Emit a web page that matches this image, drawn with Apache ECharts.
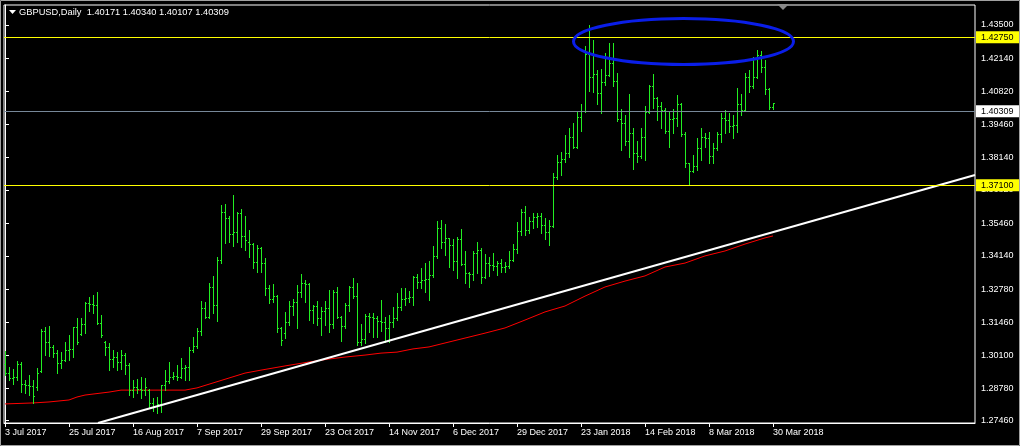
<!DOCTYPE html>
<html><head><meta charset="utf-8">
<script src="https://cdn.jsdelivr.net/npm/echarts@6/dist/echarts.min.js"></script>
<style>html,body{margin:0;padding:0;background:#000;overflow:hidden}#c{width:1020px;height:446px}</style>
</head><body><div id="c"></div>
<script>
const symbolTitle = 'GBPUSD,Daily  1.40171 1.40340 1.40107 1.40309';
const xTickIndex = [0,16,32,48,64,80,96,112,128,144,160,176,192];
const xTickLabels = ['3 Jul 2017','25 Jul 2017','16 Aug 2017','7 Sep 2017','29 Sep 2017','23 Oct 2017','14 Nov 2017','6 Dec 2017','29 Dec 2017','23 Jan 2018','14 Feb 2018','8 Mar 2018','30 Mar 2018'];
const yTickLabels = ['1.43500','1.42140','1.40820','1.39460','1.38140','1.36820','1.35460','1.34140','1.32780','1.31460','1.30100','1.28780','1.27460'];

const opens = [
1.2972,1.2939,1.2919,1.2923,1.2972,1.2891,1.2887,1.2883,1.2879,1.2947,
1.3106,1.3061,1.3041,1.3020,1.2976,1.2992,1.3029,1.3033,1.3122,1.3097,
1.3138,1.3223,1.3219,1.3215,1.3142,1.3065,1.3041,1.2996,1.3004,1.2980,
1.3012,1.2968,1.2870,1.2879,1.2874,1.2870,1.2870,1.2814,1.2802,1.2810,
1.2887,1.2903,1.2923,1.2927,1.2923,1.2956,1.2960,1.3029,1.3045,1.3106,
1.3199,1.3166,1.3284,1.3211,1.3397,1.3592,1.3564,1.3499,1.3507,1.3584,
1.3491,1.3470,1.3462,1.3389,1.3446,1.3385,1.3280,1.3239,1.3251,1.3118,
1.3101,1.3146,1.3207,1.3227,1.3264,1.3304,1.3300,1.3191,1.3207,1.3162,
1.3187,1.3199,1.3134,1.3264,1.3166,1.3126,1.3211,1.3284,1.3251,1.3061,
1.3077,1.3170,1.3166,1.3162,1.3150,1.3146,1.3118,1.3146,1.3162,1.3203,
1.3239,1.3243,1.3247,1.3328,1.3308,1.3316,1.3320,1.3333,1.3410,1.3527,
1.3470,1.3483,1.3458,1.3393,1.3479,1.3381,1.3341,1.3337,1.3422,1.3434,
1.3328,1.3385,1.3377,1.3373,1.3385,1.3369,1.3373,1.3397,1.3438,1.3511,
1.3592,1.3515,1.3555,1.3568,1.3572,1.3539,1.3507,1.3535,1.3730,1.3791,
1.3803,1.3831,1.3892,1.3855,1.3977,1.4001,1.4232,1.4139,1.4151,1.4074,
1.4115,1.4147,1.4192,1.4119,1.3965,1.3949,1.3876,1.3912,1.3831,1.3815,
1.3892,1.3997,1.4099,1.4054,1.4018,1.4005,1.3920,1.3965,1.3969,1.4026,
1.3908,1.3787,1.3758,1.3775,1.3851,1.3896,1.3888,1.3815,1.3851,1.3908,
1.3969,1.3961,1.3937,1.3941,1.4026,1.4005,1.4139,1.4099,1.4139,1.4228,
1.4176,1.4087,1.40171];
const highs = [
1.3029,1.2964,1.2956,1.2988,1.2984,1.2911,1.2931,1.2911,1.2960,1.3118,
1.3126,1.3130,1.3053,1.3033,1.3024,1.3065,1.3093,1.3126,1.3162,1.3162,
1.3227,1.3247,1.3256,1.3268,1.3174,1.3069,1.3061,1.3033,1.3024,1.3033,
1.3020,1.2980,1.2911,1.2915,1.2923,1.2919,1.2875,1.2838,1.2842,1.2891,
1.2951,1.2984,1.2943,1.2972,1.3000,1.2972,1.3045,1.3085,1.3122,1.3231,
1.3227,1.3304,1.3333,1.3410,1.3620,1.3624,1.3576,1.3661,1.3592,1.3604,
1.3576,1.3519,1.3466,1.3458,1.3450,1.3405,1.3296,1.3300,1.3256,1.3126,
1.3187,1.3231,1.3239,1.3296,1.3341,1.3316,1.3304,1.3215,1.3231,1.3207,
1.3231,1.3276,1.3276,1.3288,1.3170,1.3223,1.3292,1.3324,1.3304,1.3138,
1.3178,1.3183,1.3183,1.3170,1.3235,1.3166,1.3174,1.3207,1.3264,1.3284,
1.3284,1.3272,1.3333,1.3341,1.3365,1.3385,1.3393,1.3454,1.3555,1.3559,
1.3543,1.3487,1.3483,1.3491,1.3523,1.3434,1.3349,1.3434,1.3470,1.3446,
1.3422,1.3410,1.3426,1.3393,1.3401,1.3389,1.3434,1.3462,1.3551,1.3604,
1.3616,1.3572,1.3588,1.3588,1.3588,1.3568,1.3559,1.3750,1.3823,1.3835,
1.3904,1.3933,1.3953,1.4001,1.4030,1.4265,1.4350,1.4289,1.4168,1.4172,
1.4236,1.4277,1.4277,1.4155,1.4010,1.3985,1.4070,1.3933,1.3880,1.3933,
1.4022,1.4107,1.4151,1.4058,1.4038,1.4014,1.3997,1.4010,1.4066,1.4034,
1.3916,1.3791,1.3823,1.3892,1.3933,1.3912,1.3916,1.3872,1.3916,1.3993,
1.4005,1.3993,1.3985,1.4095,1.4070,1.4155,1.4168,1.4220,1.4249,1.4245,
1.4208,1.4095,1.40340];
const lows = [
1.2931,1.2911,1.2895,1.2911,1.2862,1.2858,1.2850,1.2818,1.2870,1.2943,
1.3012,1.3008,1.3004,1.2939,1.2960,1.2988,1.2992,1.3004,1.3057,1.3093,
1.3101,1.3191,1.3183,1.3138,1.3085,1.3012,1.2951,1.2964,1.2951,1.2956,
1.2935,1.2850,1.2842,1.2858,1.2838,1.2850,1.2802,1.2785,1.2777,1.2781,
1.2870,1.2899,1.2915,1.2911,1.2919,1.2911,1.2911,1.3025,1.3041,1.3093,
1.3162,1.3162,1.3183,1.3150,1.3385,1.3466,1.3470,1.3454,1.3470,1.3450,
1.3438,1.3410,1.3365,1.3349,1.3349,1.3256,1.3223,1.3227,1.3106,1.3053,
1.3081,1.3134,1.3174,1.3122,1.3247,1.3227,1.3154,1.3142,1.3134,1.3093,
1.3134,1.3106,1.3122,1.3162,1.3069,1.3122,1.3191,1.3243,1.3053,1.3053,
1.3061,1.3106,1.3085,1.3085,1.3111,1.3065,1.3065,1.3126,1.3154,1.3195,
1.3215,1.3227,1.3215,1.3284,1.3284,1.3268,1.3235,1.3328,1.3405,1.3446,
1.3418,1.3369,1.3357,1.3324,1.3377,1.3304,1.3288,1.3316,1.3345,1.3304,
1.3324,1.3333,1.3357,1.3337,1.3349,1.3349,1.3365,1.3393,1.3426,1.3499,
1.3499,1.3507,1.3527,1.3531,1.3507,1.3483,1.3458,1.3531,1.3726,1.3742,
1.3795,1.3815,1.3851,1.3851,1.3920,1.3997,1.4083,1.4078,1.4030,1.3993,
1.4107,1.4143,1.4103,1.3961,1.3843,1.3864,1.3815,1.3766,1.3795,1.3811,
1.3803,1.3993,1.4014,1.3965,1.3933,1.3912,1.3855,1.3912,1.3941,1.3900,
1.3775,1.3701,1.3754,1.3762,1.3803,1.3855,1.3791,1.3791,1.3843,1.3876,
1.3912,1.3916,1.3892,1.3916,1.3985,1.4001,1.4078,1.4095,1.4135,1.4160,
1.4070,1.4011,1.40107];
const closes = [
1.2939,1.2919,1.2923,1.2972,1.2891,1.2887,1.2883,1.2846,1.2939,1.3106,
1.3061,1.3041,1.3020,1.2976,1.2992,1.3029,1.3033,1.3122,1.3065,1.3138,
1.3223,1.3219,1.3215,1.3142,1.3093,1.3041,1.2996,1.3004,1.2980,1.3012,
1.2968,1.2870,1.2879,1.2874,1.2870,1.2879,1.2814,1.2802,1.2810,1.2887,
1.2903,1.2923,1.2927,1.2923,1.2956,1.2960,1.3029,1.3045,1.3106,1.3199,
1.3166,1.3284,1.3211,1.3397,1.3592,1.3564,1.3499,1.3507,1.3584,1.3491,
1.3478,1.3462,1.3389,1.3446,1.3385,1.3280,1.3239,1.3251,1.3118,1.3073,
1.3146,1.3207,1.3227,1.3264,1.3304,1.3300,1.3191,1.3207,1.3162,1.3187,
1.3199,1.3134,1.3264,1.3166,1.3126,1.3211,1.3284,1.3251,1.3061,1.3077,
1.3170,1.3166,1.3162,1.3150,1.3146,1.3118,1.3146,1.3162,1.3203,1.3239,
1.3243,1.3247,1.3328,1.3308,1.3316,1.3320,1.3333,1.3410,1.3527,1.3470,
1.3483,1.3458,1.3393,1.3479,1.3381,1.3341,1.3337,1.3422,1.3434,1.3328,
1.3385,1.3377,1.3373,1.3385,1.3369,1.3373,1.3397,1.3438,1.3511,1.3592,
1.3515,1.3555,1.3568,1.3572,1.3539,1.3507,1.3535,1.3730,1.3791,1.3803,
1.3831,1.3892,1.3855,1.3977,1.4001,1.4232,1.4139,1.4151,1.4074,1.4115,
1.4147,1.4192,1.4119,1.3965,1.3949,1.3876,1.3912,1.3831,1.3815,1.3892,
1.3997,1.4099,1.4054,1.4018,1.4005,1.3920,1.3965,1.3969,1.4026,1.3908,
1.3787,1.3758,1.3775,1.3851,1.3896,1.3888,1.3815,1.3851,1.3908,1.3969,
1.3961,1.3937,1.3941,1.4026,1.4005,1.4139,1.4099,1.4139,1.4228,1.4176,
1.4087,1.4017,1.40309];

const maIndex = [0,7,11,16,18,20,24,26,29,45,48,52,56,60,64,70,76,81,85,90,94,98,102,106,109,115,120,125,130,135,140,145,150,155,160,165,170,175,180,185,190,192];
const maValues = [1.2814,1.2818,1.2822,1.2830,1.2842,1.2850,1.2858,1.2862,1.2870,1.2870,1.2879,1.2899,1.2919,1.2939,1.2951,1.2968,1.2984,1.2996,1.3004,1.3012,1.3020,1.3024,1.3037,1.3045,1.3057,1.3081,1.3101,1.3122,1.3154,1.3187,1.3211,1.3251,1.3288,1.3312,1.3333,1.3369,1.3385,1.3414,1.3434,1.3462,1.3487,1.3495];

const trendIndex = [23.25, 242.5];
const trendPrice = [1.27367, 1.37419];
const levelPrices = [1.42750, 1.37100];
const bidPrice = 1.40309;
const ellipseIndex = [142.125, 197.125];
const ellipsePrice = [1.43764, 1.41899];

const FONT = '"Liberation Sans", Arial, sans-serif';
const BAR = '#22ee22';

const barData = opens.map((o, i) => [i, o, highs[i], lows[i], closes[i]]);
const maData = maIndex.map((x, k) => [x, maValues[k]]);
const trendData = trendIndex.map((x, k) => [x, trendPrice[k]]);
const yTickValues = yTickLabels.map(Number);

function renderBar(params, api) {
  const i = api.value(0);
  const ph = api.coord([i, api.value(2)]);
  const pl = api.coord([i, api.value(3)]);
  const po = api.coord([i, api.value(1)]);
  const pc = api.coord([i, api.value(4)]);
  const xc = Math.round(ph[0] - 0.5);
  const st = {fill: BAR};
  const top = Math.round(ph[1]), bot = Math.round(pl[1]);
  const yo = Math.round(po[1] - 0.5), yc = Math.round(pc[1] - 0.5);
  return {type: 'group', children: [
    {type: 'rect', shape: {x: xc, y: top, width: 1, height: Math.max(1, bot - top + 1)}, style: st},
    {type: 'rect', shape: {x: xc - 1, y: yo, width: 1, height: 1}, style: st},
    {type: 'rect', shape: {x: xc + 1, y: yc, width: 1, height: 1}, style: st}
  ]};
}

function renderEllipse(params, api) {
  const a = api.coord([api.value(0), api.value(1)]);
  const b = api.coord([api.value(2), api.value(3)]);
  return {type: 'ellipse', shape: {cx: (a[0] + b[0]) / 2, cy: (a[1] + b[1]) / 2, rx: Math.abs(b[0] - a[0]) / 2, ry: Math.abs(b[1] - a[1]) / 2},
    style: {fill: 'none', stroke: '#0a1ee8', lineWidth: 3}};
}

function levelSeries(v, lineColor, bg) {
  return {type: 'line', data: [], silent: true, z: 5,
    markLine: {symbol: 'none', silent: true, animation: false,
      lineStyle: {color: lineColor, width: 1, type: 'solid'},
      label: {show: true, position: 'end', distance: 1, formatter: v.toFixed(5), color: '#000', backgroundColor: bg,
        padding: [2, 6, 1, 5], fontSize: 9, fontFamily: FONT},
      data: [{yAxis: v}]}};
}

const chart = echarts.init(document.getElementById('c'), null, {renderer: 'canvas'});
chart.setOption({
  animation: false,
  backgroundColor: '#000',
  title: {text: symbolTitle, left: 19, top: 8, padding: 0,
    textStyle: {color: '#fff', fontSize: 9.3, fontWeight: 'normal', fontFamily: FONT}},
  grid: {left: 4, right: 45, top: 5, bottom: 23, show: true, borderColor: '#fff', borderWidth: 1,
    backgroundColor: '#000', containLabel: false, outerBoundsMode: 'none'},
  xAxis: {type: 'value', min: -0.25, max: 242.5, splitLine: {show: false},
    axisLine: {show: true, lineStyle: {color: '#fff', width: 1}},
    axisTick: {show: true, customValues: xTickIndex, length: 4, lineStyle: {color: '#fff'}},
    axisLabel: {show: true, customValues: xTickIndex, align: 'left', margin: 5, color: '#fff', fontSize: 9, fontFamily: FONT,
      formatter: v => { const k = xTickIndex.indexOf(Math.round(v)); return k >= 0 ? xTickLabels[k] : ''; }}},
  yAxis: {type: 'value', position: 'right', min: 1.27367, max: 1.44311, splitLine: {show: false},
    axisLine: {show: true, lineStyle: {color: '#fff', width: 1}},
    axisTick: {show: true, customValues: yTickValues, length: 4, lineStyle: {color: '#fff'}},
    axisLabel: {show: true, customValues: yTickValues, margin: 6, color: '#fff', fontSize: 9, fontFamily: FONT,
      formatter: v => v.toFixed(5)}},
  series: [
    {type: 'line', name: 'MA', data: maData, symbol: 'none', z: 2, silent: true,
      lineStyle: {color: '#ff0000', width: 1}},
    {type: 'custom', name: 'GBPUSD', data: barData, renderItem: renderBar, encode: {x: 0, y: [1, 2, 3, 4]}, z: 3, silent: true},
    levelSeries(levelPrices[0], '#ffff00', '#ffff00'),
    levelSeries(levelPrices[1], '#ffff00', '#ffff00'),
    levelSeries(bidPrice, '#778899', '#ffffff'),
    {type: 'line', name: 'Trend', data: trendData, symbol: 'none', z: 4, silent: true,
      lineStyle: {color: '#ffffff', width: 2}},
    {type: 'custom', name: 'Ellipse', data: [[ellipseIndex[0], ellipsePrice[0], ellipseIndex[1], ellipsePrice[1]]],
      renderItem: renderEllipse, encode: {x: [0, 2], y: [1, 3]}, z: 6, silent: true}
  ],
  graphic: [
    {type: 'polygon', shape: {points: [[9, 10], [16, 10], [12.5, 14]]}, style: {fill: '#fff'}},
    {type: 'polygon', shape: {points: [[777, 4], [789, 4], [783, 10]]}, style: {fill: '#8a8a8a'}, z: 50},
    {type: 'rect', shape: {x: 0.5, y: 0.5, width: 1019, height: 445}, style: {fill: 'none', stroke: '#a0a0a0', lineWidth: 1}, z: 100}
  ]
});
</script></body></html>
